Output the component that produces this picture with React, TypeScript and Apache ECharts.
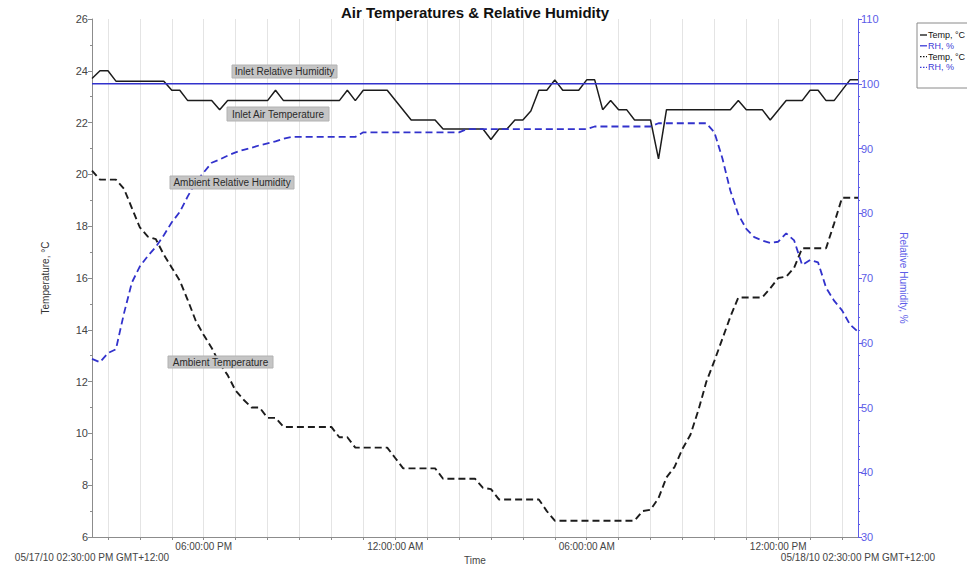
import { useEffect, useRef } from 'react';
import * as echarts from 'echarts';

const FONT = '"Liberation Sans", Arial, Helvetica, sans-serif';

// x values are hours since 05/17/10 00:00 (GMT+12)
const inletTemp: [number, number][] = [
  [14.5, 23.7], [14.75, 24.0], [15, 24.0], [15.25, 23.6], [16.75, 23.6], [17, 23.25], [17.25, 23.25],
  [17.5, 22.85], [18.25, 22.85], [18.5, 22.5], [18.75, 22.85], [20, 22.85], [20.25, 23.25], [20.5, 22.85],
  [22.25, 22.85], [22.5, 23.25], [22.75, 22.85], [23, 23.25], [23.75, 23.25], [24.5, 22.1], [25.25, 22.1],
  [25.5, 21.75], [26.75, 21.75], [27, 21.35], [27.25, 21.75], [27.5, 21.75], [27.75, 22.1], [28, 22.1],
  [28.25, 22.45], [28.5, 23.25], [28.75, 23.25], [29, 23.65], [29.25, 23.25], [29.75, 23.25], [30, 23.65],
  [30.25, 23.65], [30.5, 22.5], [30.75, 22.85], [31, 22.5], [31.25, 22.5], [31.5, 22.1], [32, 22.1],
  [32.25, 20.6], [32.5, 22.5], [34.5, 22.5], [34.75, 22.85], [35, 22.5], [35.5, 22.5], [35.75, 22.1],
  [36.25, 22.85], [36.75, 22.85], [37, 23.25], [37.25, 23.25], [37.5, 22.85], [37.75, 22.85], [38.25, 23.65],
  [38.5, 23.65],
];

const inletRH: [number, number][] = [
  [14.5, 100], [38.5, 100],
];

const ambientTemp: [number, number][] = [
  [14.5, 20.15], [14.75, 19.8], [15.25, 19.8], [15.5, 19.45], [15.75, 18.7], [16, 17.95], [16.25, 17.6],
  [16.5, 17.5], [16.75, 16.9], [17, 16.4], [17.25, 15.9], [17.5, 15.15], [17.75, 14.35], [18, 13.8],
  [18.25, 13.3], [18.5, 12.7], [18.75, 12.25], [19, 11.65], [19.25, 11.3], [19.5, 11.0], [19.75, 11.0],
  [20, 10.6], [20.25, 10.6], [20.5, 10.25], [22, 10.25], [22.25, 9.85], [22.5, 9.85], [22.75, 9.45],
  [23.75, 9.45], [24, 9.05], [24.25, 8.65], [25.25, 8.65], [25.5, 8.25], [26.5, 8.25], [26.75, 7.9],
  [27, 7.85], [27.25, 7.45], [28.5, 7.45], [28.75, 7.0], [29, 6.63], [31.5, 6.63], [31.75, 7.0],
  [32, 7.05], [32.25, 7.5], [32.5, 8.3], [32.75, 8.7], [33, 9.4], [33.25, 9.95], [33.5, 10.9],
  [33.75, 12.0], [34, 12.8], [34.25, 13.65], [34.5, 14.5], [34.75, 15.25], [35.5, 15.25], [35.75, 15.6],
  [36, 16.0], [36.25, 16.05], [36.5, 16.4], [36.75, 17.15], [37.5, 17.15], [37.75, 18.1], [38, 19.1],
  [38.5, 19.1],
];

const ambientRH: [number, number][] = [
  [14.5, 57.5], [14.75, 57.0], [15, 58.4], [15.25, 59.0], [15.5, 64.5], [15.75, 69.3], [16, 71.8],
  [16.25, 73.4], [16.5, 74.8], [16.75, 76.6], [17, 78.6], [17.25, 80.2], [17.5, 82.6], [17.75, 84.8],
  [18, 86.3], [18.25, 87.8], [18.5, 88.3], [18.75, 88.9], [19, 89.4], [19.25, 89.8], [19.5, 90.1],
  [19.75, 90.5], [20, 90.8], [20.25, 91.1], [20.5, 91.5], [20.75, 91.8], [22.75, 91.8], [23, 92.5],
  [26, 92.5], [26.25, 93.0], [30, 93.0], [30.25, 93.4], [32, 93.4], [32.25, 93.9], [33.75, 93.9],
  [34, 92.5], [34.25, 88.5], [34.5, 83.5], [34.75, 79.8], [35, 77.6], [35.25, 76.3], [35.5, 75.8],
  [35.75, 75.4], [36, 75.6], [36.25, 76.9], [36.5, 75.8], [36.75, 72.0], [37, 72.8], [37.25, 72.4],
  [37.5, 68.5], [37.75, 66.5], [38, 65.0], [38.25, 62.8], [38.5, 61.7],
];

const hourTicks: number[] = [
  15, 16, 17, 18, 19, 20, 21, 22, 23, 24, 25, 26, 27, 28, 29, 30, 31, 32, 33, 34, 35, 36, 37, 38,
];
const timeLabelValues: number[] = [18, 24, 30, 36];
const timeLabelTexts: string[] = ['06:00:00 PM', '12:00:00 AM', '06:00:00 AM', '12:00:00 PM'];
const startLabel = '05/17/10 02:30:00 PM GMT+12:00';
const endLabel = '05/18/10 02:30:00 PM GMT+12:00';

const annotations: { text: string; cx: number; cy: number; w: number; h: number }[] = [
  { text: 'Inlet Relative Humidity', cx: 284.5, cy: 71.5, w: 105, h: 13 },
  { text: 'Inlet Air Temperature', cx: 278, cy: 114, w: 102, h: 14 },
  { text: 'Ambient Relative Humidity', cx: 232, cy: 182.5, w: 124, h: 13 },
  { text: 'Ambient Temperature', cx: 220.5, cy: 362, w: 105, h: 12 },
];

const legendItems: { text: string; color: string; dotted: boolean }[] = [
  { text: 'Temp, °C', color: '#111111', dotted: false },
  { text: 'RH, %', color: '#3a3ad6', dotted: false },
  { text: 'Temp, °C', color: '#111111', dotted: true },
  { text: 'RH, %', color: '#3a3ad6', dotted: true },
];

const BLACK = '#1c1c1c';
const BLUE = '#3232cc';
const AXIS_BLUE = '#5c5ce8';

export default function App() {
  const ref = useRef<HTMLDivElement>(null);

  useEffect(() => {
    document.body.style.margin = '0';
    const chart = echarts.init(ref.current!, null, { renderer: 'svg' });

    const graphics: any[] = [];
    graphics.push({
      type: 'text',
      x: 475,
      y: 12,
      style: {
        text: 'Air Temperatures & Relative Humidity',
        fill: '#111',
        font: `bold 15px ${FONT}`,
        textAlign: 'center',
        textVerticalAlign: 'middle',
      },
    });
    [
      { text: startLabel, x: 92 },
      { text: endLabel, x: 858 },
    ].forEach((d) => {
      graphics.push({
        type: 'text',
        x: d.x,
        y: 557,
        style: {
          text: d.text,
          fill: '#444',
          font: `10px ${FONT}`,
          textAlign: 'center',
          textVerticalAlign: 'middle',
        },
      });
    });
    annotations.forEach((a) => {
      graphics.push({
        type: 'rect',
        shape: { x: a.cx - a.w / 2, y: a.cy - a.h / 2, width: a.w, height: a.h },
        style: { fill: '#c5c5c5', stroke: '#b2b2b2', lineWidth: 1 },
        z: 10,
      });
      graphics.push({
        type: 'text',
        x: a.cx,
        y: a.cy,
        style: {
          text: a.text,
          fill: '#2a2a2a',
          font: `10px ${FONT}`,
          textAlign: 'center',
          textVerticalAlign: 'middle',
        },
        z: 11,
      });
    });
    graphics.push({
      type: 'rect',
      shape: { x: 917, y: 23, width: 60, height: 65 },
      style: { fill: '#fff', stroke: '#8a8a8a', lineWidth: 1 },
      z: 10,
    });
    legendItems.forEach((it, i) => {
      const y = 35 + i * 10.8;
      graphics.push({
        type: 'line',
        shape: { x1: 920, y1: y, x2: 927, y2: y },
        style: { stroke: it.color, lineWidth: 1.3, lineDash: it.dotted ? [1.5, 1.5] : null },
        z: 11,
      });
      graphics.push({
        type: 'text',
        x: 928,
        y,
        style: {
          text: it.text,
          fill: it.color,
          font: `9px ${FONT}`,
          textAlign: 'left',
          textVerticalAlign: 'middle',
        },
        z: 11,
      });
    });

    chart.setOption({
      animation: false,
      backgroundColor: '#ffffff',
      textStyle: { fontFamily: FONT },
      grid: { left: 92, right: 109, top: 19, bottom: 30, outerBoundsMode: 'none', containLabel: false },
      xAxis: {
        type: 'value',
        min: 14.5,
        max: 38.5,
        name: 'Time',
        nameLocation: 'middle',
        nameGap: 15,
        nameTextStyle: { fontSize: 10, color: '#444', fontFamily: FONT },
        axisLine: { lineStyle: { color: '#8c8c8c', width: 1 } },
        axisTick: { show: true, customValues: hourTicks, length: 3, lineStyle: { color: '#8c8c8c' } },
        axisLabel: {
          customValues: timeLabelValues,
          formatter: (v: number) => {
            const idx = timeLabelValues.indexOf(v);
            return idx >= 0 ? timeLabelTexts[idx] : '';
          },
          fontSize: 10,
          color: '#444',
          margin: 4,
          fontFamily: FONT,
        },
        splitLine: { show: true, lineStyle: { color: '#e4e4e4', width: 1 } },
      },
      yAxis: [
        {
          type: 'value',
          position: 'left',
          min: 6,
          max: 26,
          interval: 2,
          name: 'Temperature, °C',
          nameLocation: 'middle',
          nameRotate: 90,
          nameGap: 42,
          nameTextStyle: { fontSize: 10, color: '#333', fontFamily: FONT },
          axisLine: { show: true, lineStyle: { color: '#8c8c8c' } },
          axisTick: { show: true, length: 4, lineStyle: { color: '#8c8c8c' } },
          minorTick: { show: true, splitNumber: 2, length: 2, lineStyle: { color: '#8c8c8c' } },
          axisLabel: { fontSize: 11, color: '#444', margin: 4, fontFamily: FONT },
          splitLine: { show: false },
        },
        {
          type: 'value',
          position: 'right',
          min: 30,
          max: 110,
          interval: 10,
          name: 'Relative Humidity, %',
          nameLocation: 'middle',
          nameRotate: -90,
          nameGap: 40,
          nameTextStyle: { fontSize: 10, color: AXIS_BLUE, fontFamily: FONT },
          axisLine: { show: true, lineStyle: { color: AXIS_BLUE } },
          axisTick: { show: true, length: 4, lineStyle: { color: AXIS_BLUE } },
          minorTick: { show: true, splitNumber: 5, length: 2, lineStyle: { color: AXIS_BLUE } },
          axisLabel: { fontSize: 11, color: AXIS_BLUE, margin: 3, fontFamily: FONT },
          splitLine: { show: false },
        },
      ],
      series: [
        {
          name: 'Inlet Air Temperature',
          type: 'line',
          yAxisIndex: 0,
          data: inletTemp,
          showSymbol: false,
          symbol: 'none',
          lineStyle: { color: BLACK, width: 1.5 },
          z: 3,
        },
        {
          name: 'Inlet Relative Humidity',
          type: 'line',
          yAxisIndex: 1,
          data: inletRH,
          showSymbol: false,
          symbol: 'none',
          lineStyle: { color: BLUE, width: 1.5 },
          z: 3,
        },
        {
          name: 'Ambient Temperature',
          type: 'line',
          yAxisIndex: 0,
          data: ambientTemp,
          showSymbol: false,
          symbol: 'none',
          lineStyle: { color: BLACK, width: 1.9, type: [7, 4] },
          z: 3,
        },
        {
          name: 'Ambient Relative Humidity',
          type: 'line',
          yAxisIndex: 1,
          data: ambientRH,
          showSymbol: false,
          symbol: 'none',
          lineStyle: { color: BLUE, width: 1.8, type: [7, 4] },
          z: 3,
        },
      ],
      graphic: graphics,
    });

    return () => chart.dispose();
  }, []);

  return (
    <div
      ref={ref}
      style={{ position: 'fixed', left: 0, top: 0, width: 967, height: 567, background: '#fff' }}
    />
  );
}
